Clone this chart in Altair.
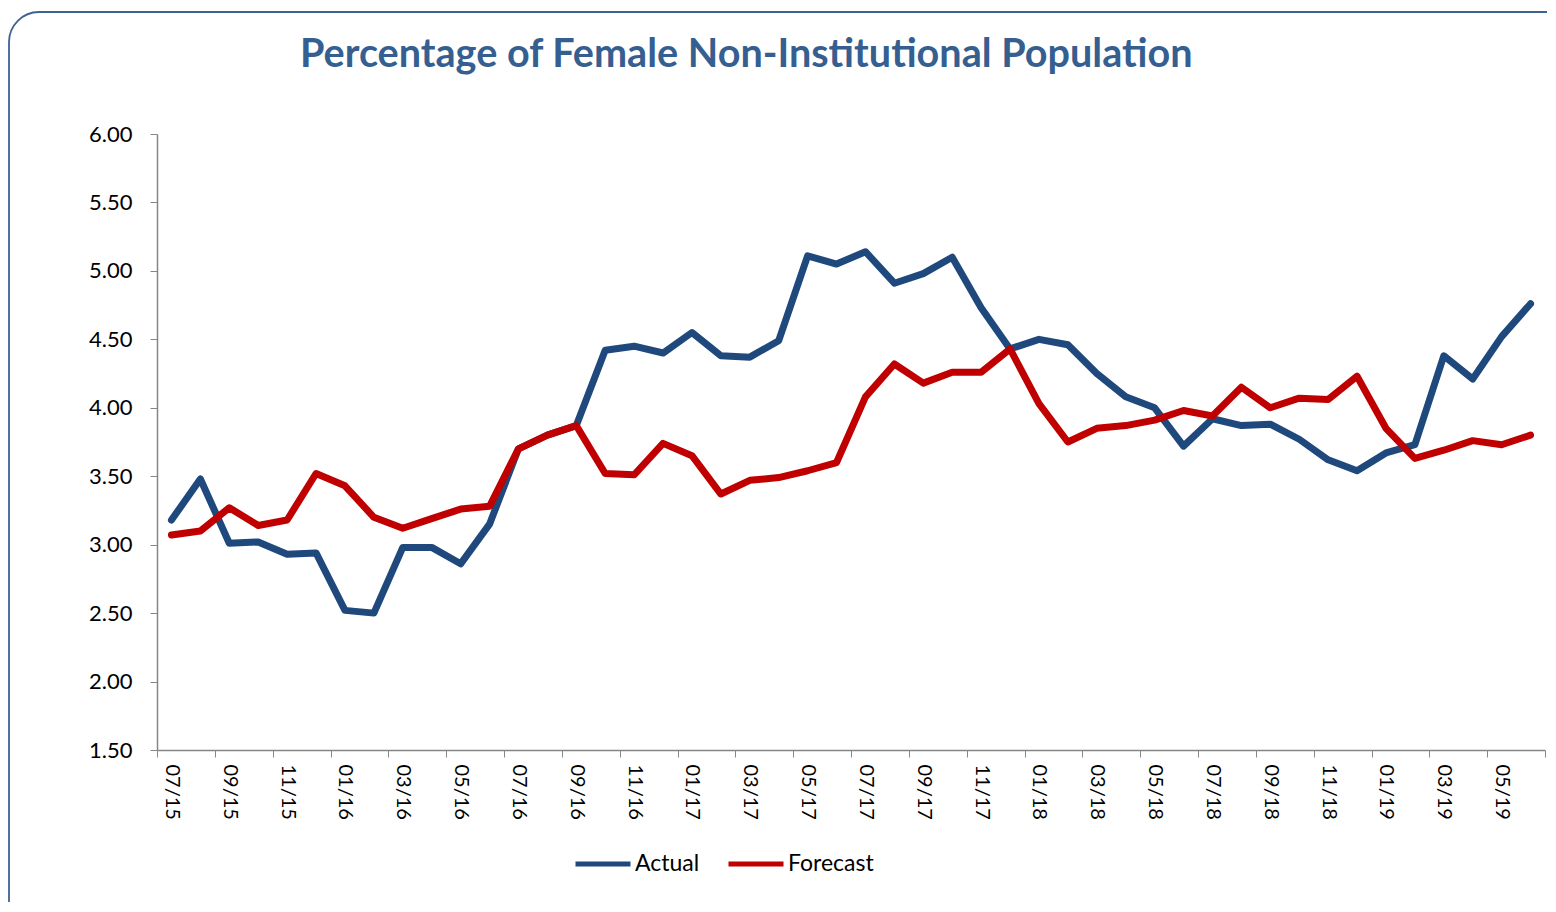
import altair as alt
import pandas as pd

months = ["07/15", "08/15", "09/15", "10/15", "11/15", "12/15",
          "01/16", "02/16", "03/16", "04/16", "05/16", "06/16",
          "07/16", "08/16", "09/16", "10/16", "11/16", "12/16",
          "01/17", "02/17", "03/17", "04/17", "05/17", "06/17",
          "07/17", "08/17", "09/17", "10/17", "11/17", "12/17",
          "01/18", "02/18", "03/18", "04/18", "05/18", "06/18",
          "07/18", "08/18", "09/18", "10/18", "11/18", "12/18",
          "01/19", "02/19", "03/19", "04/19", "05/19", "06/19"]

actual = [3.18, 3.48, 3.01, 3.02, 2.93, 2.94, 2.52, 2.50, 2.98, 2.98, 2.86, 3.15,
          3.70, 3.80, 3.87, 4.42, 4.45, 4.40, 4.55, 4.38, 4.37, 4.49, 5.11, 5.05,
          5.14, 4.91, 4.98, 5.10, 4.73, 4.43, 4.50, 4.46, 4.25, 4.08, 4.00, 3.72,
          3.92, 3.87, 3.88, 3.77, 3.62, 3.54, 3.67, 3.73, 4.38, 4.21, 4.52, 4.76]

forecast = [3.07, 3.10, 3.27, 3.14, 3.18, 3.52, 3.43, 3.20, 3.12, 3.19, 3.26, 3.28,
            3.70, 3.80, 3.87, 3.52, 3.51, 3.74, 3.65, 3.37, 3.47, 3.49, 3.54, 3.60,
            4.08, 4.32, 4.18, 4.26, 4.26, 4.43, 4.03, 3.75, 3.85, 3.87, 3.91, 3.98,
            3.94, 4.15, 4.00, 4.07, 4.06, 4.23, 3.85, 3.63, 3.69, 3.76, 3.73, 3.80]

series_names = ["Actual", "Forecast"]
series_colors = ["#1F497D", "#C00000"]
y_ticks = [1.5, 2.0, 2.5, 3.0, 3.5, 4.0, 4.5, 5.0, 5.5, 6.0]
title_text = "Percentage of Female Non-Institutional Population"

rows = []
for i, m in enumerate(months):
    rows.append({"idx": i, "month": m, "series": "Actual", "value": actual[i]})
    rows.append({"idx": i, "month": m, "series": "Forecast", "value": forecast[i]})
df = pd.DataFrame(rows)

W, H = 1388, 616
n = len(months)
step = W / n
label_js = "[" + ",".join("'%s'" % m for m in months) + "]"
tick_positions = [i - 0.5 for i in range(0, n + 1, 2)]

AXIS_GRAY = "#868686"
FONT = "Lato"

lines = alt.Chart(df).mark_line(strokeWidth=7, strokeCap="round", strokeJoin="round").encode(
    x=alt.X("idx:Q",
            scale=alt.Scale(domain=[-0.5, n - 0.5], nice=False, zero=False),
            axis=alt.Axis(values=tick_positions,
                          labelExpr=label_js + "[datum.value + 0.5] || ''",
                          labelAngle=90, labelOffset=step / 2,
                          labelOverlap=False, labelFlush=False, labelBound=False,
                          title=None, grid=False, tickSize=7, labelPadding=7,
                          domainColor=AXIS_GRAY, tickColor=AXIS_GRAY, domainWidth=1.5,
                          labelFont=FONT, labelFontSize=20, labelColor="#000000")),
    y=alt.Y("value:Q",
            scale=alt.Scale(domain=[1.5, 6.0], nice=False, zero=False),
            axis=alt.Axis(values=y_ticks, format=".2f", title=None, grid=False,
                          tickSize=7, labelPadding=18,
                          domainColor=AXIS_GRAY, tickColor=AXIS_GRAY, domainWidth=1.5,
                          labelFont=FONT, labelFontSize=22, labelColor="#000000")),
    color=alt.Color("series:N",
                    scale=alt.Scale(domain=series_names, range=series_colors),
                    legend=alt.Legend(title=None, orient="none", direction="horizontal",
                                      legendX=416, legendY=700,
                                      symbolType="stroke", symbolSize=3025,
                                      symbolStrokeWidth=5, labelOffset=2,
                                      columnPadding=18,
                                      labelFont=FONT, labelFontSize=23,
                                      labelColor="#000000")),
)

frame = alt.Chart(pd.DataFrame({"k": [0]})).mark_rect(
    fillOpacity=0, stroke="#3E6293", strokeWidth=1.8, cornerRadius=30
).encode(
    x=alt.value(9 - 157), x2=alt.value(1590 - 157),
    y=alt.value(12 - 134), y2=alt.value(940 - 134),
)

chart = alt.layer(frame, lines).properties(
    width=W, height=H,
    view=alt.ViewBackground(stroke="transparent", strokeOpacity=0),
    title=alt.TitleParams(title_text, anchor="start", frame="group", dx=143, offset=-95,
                          baseline="alphabetic",
                          font=FONT, fontSize=39.6, fontWeight="bold", color="#365F91"),
    autosize=alt.AutoSizeParams(type="none"),
    padding={"left": 149, "top": 126, "right": 2, "bottom": 152},
).configure_view(stroke="transparent", strokeWidth=0).configure(background="white")

chart.save("out.html", embed_options={"renderer": "svg", "actions": False})
